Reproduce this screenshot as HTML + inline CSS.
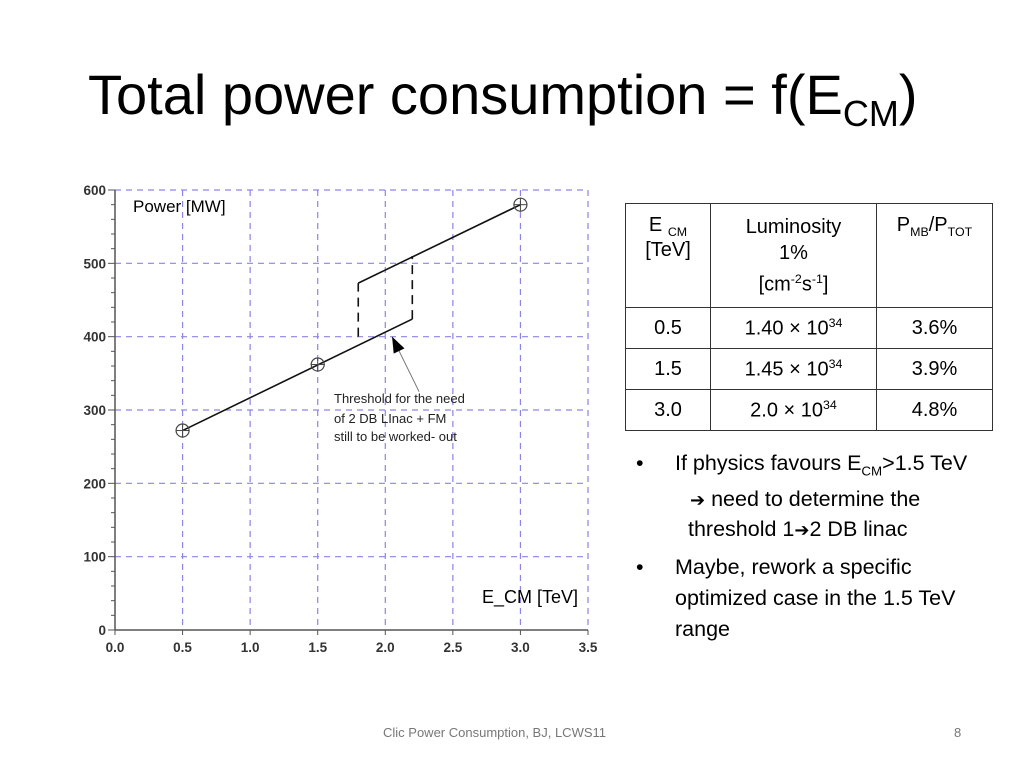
<!DOCTYPE html>
<html><head><meta charset="utf-8"><style>
body{margin:0;background:#fff;}
#page{position:relative;width:1024px;height:768px;overflow:hidden;font-family:"Liberation Sans",sans-serif;color:#000;}
.t{position:absolute;white-space:nowrap;}
.line{position:absolute;font-size:21.5px;white-space:nowrap;}
.arr{font-family:"DejaVu Sans",sans-serif;font-size:18px;}
sub,sup{font-size:0.62em;}
table{position:absolute;left:625px;top:203px;border-collapse:collapse;font-size:20px;}
td{border:1.5px solid #333;text-align:center;padding:0;}
</style></head><body>
<div id="page">
<div class="t" style="left:88px;top:62px;font-size:56px;">Total power consumption = f(E<sub style="font-size:36px">CM</sub>)</div>

<svg style="position:absolute;left:0;top:0" width="620" height="680">
<g id="grid"></g><g id="axes"></g><g id="marks"></g>
<text x="133" y="212" font-size="17" font-family="Liberation Sans">Power [MW]</text>
<text x="482" y="603" font-size="18" font-family="Liberation Sans">E_CM [TeV]</text>
<g font-size="13" font-family="Liberation Sans" fill="#222">
<text x="334" y="403">Threshold for the need</text>
<text x="334" y="423">of 2 DB LInac + FM</text>
<text x="334" y="441">still to be worked- out</text>
</g>
</svg>

<table>
<tr style="height:104px;vertical-align:top"><td style="width:84px;padding-top:10px">E <sub>CM</sub><br>[TeV]</td><td style="width:165px;padding-top:10px;line-height:26px">Luminosity<br>1%<br>[cm<sup>-2</sup>s<sup>-1</sup>]</td><td style="width:115px;padding-top:10px">P<sub>MB</sub>/P<sub>TOT</sub></td></tr>
<tr style="height:41px"><td>0.5</td><td>1.40 × 10<sup>34</sup></td><td>3.6%</td></tr>
<tr style="height:41px"><td>1.5</td><td>1.45 × 10<sup>34</sup></td><td>3.9%</td></tr>
<tr style="height:41px"><td>3.0</td><td>2.0 × 10<sup>34</sup></td><td>4.8%</td></tr>
</table>

<div>
<div class="line" style="left:636px;top:451px">•</div>
<div class="line" style="left:675px;top:451px">If physics favours E<sub>CM</sub>&gt;1.5 TeV</div>
<div class="line" style="left:690px;top:487px"><span class="arr">➔</span> need to determine the</div>
<div class="line" style="left:688px;top:517px">threshold 1<span class="arr">➔</span>2 DB linac</div>
<div class="line" style="left:636px;top:555px">•</div>
<div class="line" style="left:675px;top:555px">Maybe, rework a specific</div>
<div class="line" style="left:675px;top:586px">optimized case in the 1.5 TeV</div>
<div class="line" style="left:675px;top:617px">range</div>
</div>

<div class="t" style="left:383px;top:725px;font-size:13px;color:#777">Clic Power Consumption, BJ,  LCWS11</div>
<div class="t" style="left:954px;top:725px;font-size:13px;color:#777">8</div>
</div>
<script>
const xTicks=[0,0.5,1.0,1.5,2.0,2.5,3.0,3.5];
const xTickLabels=["0.0","0.5","1.0","1.5","2.0","2.5","3.0","3.5"];
const yTicks=[0,100,200,300,400,500,600];
const yTickLabels=["0","100","200","300","400","500","600"];
const pointX=[0.5,1.5,3.0];
const pointY=[272,362,580];
const lowerLineX=[0.5,2.2];
const lowerLineY=[272,424];
const upperLineX=[1.8,3.0];
const upperLineY=[473,580];
const thresholdX=[1.8,2.2];
const thresholdBottom=[400,424];
const thresholdTop=[473,510];
const arrowTip=[2.05,400];
const arrowTail=[2.25,325];

const X0=115,X1=588,Y0=630,Y1=190;
const sx=v=>X0+(v-0)/3.5*(X1-X0);
const sy=v=>Y0-(v-0)/600*(Y0-Y1);
const NS="http://www.w3.org/2000/svg";
function mk(parent,tag,attrs){const e=document.createElementNS(NS,tag);for(const k in attrs)e.setAttribute(k,attrs[k]);parent.appendChild(e);return e;}
const grid=document.getElementById('grid'),axes=document.getElementById('axes'),marks=document.getElementById('marks');
xTicks.forEach((v,i)=>{
  if(v>0){const l=mk(grid,'line',{x1:sx(v),x2:sx(v),y1:sy(600),y2:sy(0),stroke:'#8c84e6','stroke-width':1.2,'stroke-dasharray':'6,5'});
  
  }
  const t=mk(axes,'text',{x:sx(v),y:652,'text-anchor':'middle','font-size':13.5,'font-weight':'bold','fill':'#333','font-family':'Liberation Sans'});t.textContent=xTickLabels[i];
  
  
  mk(axes,'line',{x1:sx(v),x2:sx(v),y1:sy(0),y2:sy(0)+5,stroke:'#555'});
});
yTicks.forEach((v,i)=>{
  if(v>0){const l=mk(grid,'line',{x1:sx(0),x2:sx(3.5),y1:sy(v),y2:sy(v),stroke:'#8c84e6','stroke-width':1.2,'stroke-dasharray':'6,5'});
  
  }
  const t=mk(axes,'text',{x:106,y:sy(v)+5,'text-anchor':'end','font-size':13.5,'font-weight':'bold','fill':'#333','font-family':'Liberation Sans'});t.textContent=yTickLabels[i];
  
  
});
for(let v=0;v<=600;v+=20){mk(axes,'line',{x1:sx(0)-(v%100?4:7),x2:sx(0),y1:sy(v),y2:sy(v),stroke:'#555'});}
const xa=mk(axes,'line',{x1:sx(0),x2:sx(3.5),y1:sy(0),y2:sy(0),stroke:'#555','stroke-width':1.5});


const ya=mk(axes,'line',{x1:sx(0),x2:sx(0),y1:sy(0),y2:sy(600),stroke:'#555','stroke-width':1.5});


const lo=mk(marks,'line',{x1:sx(lowerLineX[0]),y1:sy(lowerLineY[0]),x2:sx(lowerLineX[1]),y2:sy(lowerLineY[1]),stroke:'#111','stroke-width':1.6});


const up=mk(marks,'line',{x1:sx(upperLineX[0]),y1:sy(upperLineY[0]),x2:sx(upperLineX[1]),y2:sy(upperLineY[1]),stroke:'#111','stroke-width':1.6});


thresholdX.forEach((v,i)=>{
  const d=mk(marks,'line',{x1:sx(v),x2:sx(v),y1:sy(thresholdBottom[i]),y2:sy(thresholdTop[i]),stroke:'#111','stroke-width':1.6,'stroke-dasharray':'9,6'});
  
  
});
const ax=sx(arrowTip[0]),ay=sy(arrowTip[1]),bx=sx(arrowTail[0]),by=sy(arrowTail[1]);
const al=mk(marks,'line',{x1:bx,y1:by,x2:ax,y2:ay,stroke:'#777','stroke-width':1});


const ang=Math.atan2(ay-by,ax-bx),L=16,W=6;
const p1=[ax-L*Math.cos(ang)+W*Math.sin(ang),ay-L*Math.sin(ang)-W*Math.cos(ang)],p2=[ax-L*Math.cos(ang)-W*Math.sin(ang),ay-L*Math.sin(ang)+W*Math.cos(ang)];
mk(marks,'polygon',{points:`${ax},${ay} ${p1} ${p2}`,fill:'#000'});
pointX.forEach((v,i)=>{
  const g=mk(marks,'g',{});
  
  
  const cx=sx(v),cy=sy(pointY[i]);
  mk(g,'circle',{cx:cx,cy:cy,r:6.5,fill:'none',stroke:'#444','stroke-width':1.2});
  mk(g,'line',{x1:cx-7,x2:cx+7,y1:cy,y2:cy,stroke:'#444'});
  mk(g,'line',{x1:cx,x2:cx,y1:cy-7,y2:cy+7,stroke:'#444'});
});
</script>
</body></html>
